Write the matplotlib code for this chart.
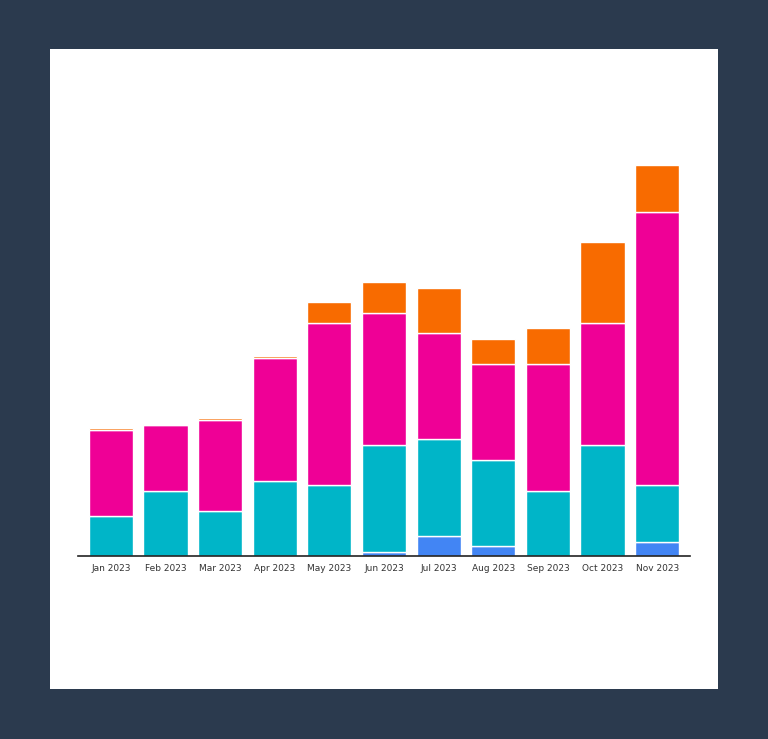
import numpy as np
import matplotlib.pyplot as plt
from matplotlib.patches import Rectangle

months = ['Jan 2023', 'Feb 2023', 'Mar 2023', 'Apr 2023', 'May 2023', 'Jun 2023',
          'Jul 2023', 'Aug 2023', 'Sep 2023', 'Oct 2023', 'Nov 2023']
blue = [0, 0, 0, 0, 0, 4, 20, 10, 0, 0, 14]
cyan = [40, 65, 45, 75, 71, 107, 97, 86, 65, 111, 57]
magenta = [86, 66, 91, 123, 162, 132, 106, 96, 127, 122, 273]
orange = [2, 1, 2, 2, 21, 31, 45, 25, 36, 81, 47]

series = [(blue, '#4285f4'), (cyan, '#00b5c8'), (magenta, '#ef0096'), (orange, '#f86b00')]

W, H = 768, 739
fig = plt.figure(figsize=(W / 100, H / 100), dpi=100)
fig.patch.set_facecolor('#2b3a4e')
fig.patches.append(Rectangle((50 / W, 1 - 689 / H), 668 / W, 640 / H,
                             transform=fig.transFigure, facecolor='white', zorder=-5))

ax = fig.add_axes([78 / W, 1 - 556 / H, 612 / W, 456 / H])
ax.set_zorder(2)
ax.set_facecolor('none')
x = np.arange(len(months))
bottom = np.zeros(len(months))
for vals, col in series:
    v = np.array(vals, dtype=float)
    ax.bar(x, v, bottom=bottom, width=0.81, color=col, edgecolor='white', linewidth=1)
    bottom += v

ax.set_xlim(-0.6, len(months) - 0.4)
ax.set_ylim(0, 456)
ax.set_xticks(x)
ax.set_xticklabels(months, fontsize=6.5, color='#333333')
ax.tick_params(axis='x', length=0, pad=6)
ax.set_yticks([])
for s in ['top', 'right', 'left']:
    ax.spines[s].set_visible(False)
ax.spines['bottom'].set_color('#222222')
ax.spines['bottom'].set_linewidth(1.2)

fig.savefig('out.png', dpi=100, facecolor=fig.get_facecolor())
